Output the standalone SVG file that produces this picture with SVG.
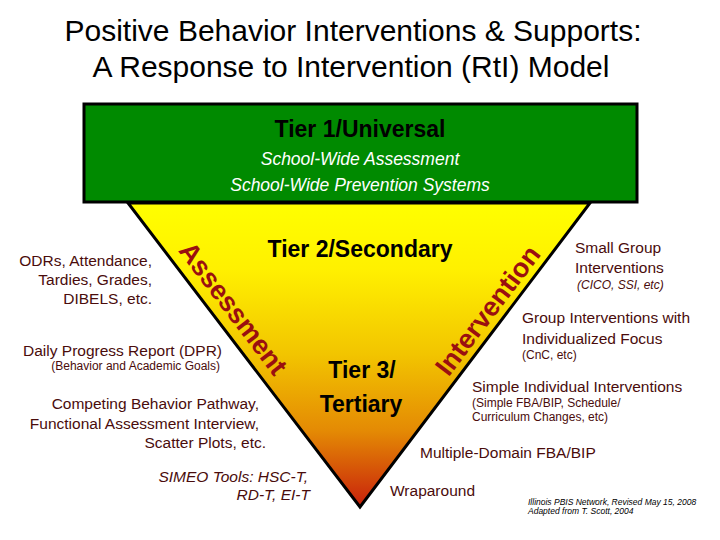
<svg xmlns="http://www.w3.org/2000/svg" width="720" height="540" viewBox="0 0 720 540">
<defs>
<linearGradient id="tri" gradientUnits="userSpaceOnUse" x1="0" y1="203" x2="0" y2="507">
<stop offset="0" stop-color="#FFFF00"/>
<stop offset="0.22" stop-color="#FFF000"/>
<stop offset="0.5" stop-color="#F2C400"/>
<stop offset="0.75" stop-color="#E48A04"/>
<stop offset="1" stop-color="#C8200C"/>
</linearGradient>
<style>
text{font-family:"Liberation Sans",Arial,Helvetica,sans-serif}
.title{font-size:30px;fill:#000;text-anchor:middle}
.tier{font-size:23px;font-weight:bold;fill:#000;text-anchor:middle}
.sw{font-size:17.5px;font-style:italic;fill:#fff;text-anchor:middle}
.lab{font-size:15.5px;fill:#4a0c0c}
.sm{font-size:12px;fill:#4a0c0c}
.it{font-style:italic}
.r{text-anchor:end}
.rot{font-size:27px;font-weight:bold;fill:#9a1010;text-anchor:middle}
.cred{font-size:8.5px;font-style:italic;fill:#000}
</style>
</defs>
<rect width="720" height="540" fill="#fff"/>
<g id="title">
<text class="title" x="353" y="41">Positive Behavior Interventions &amp; Supports:</text>
<text class="title" x="351" y="77">A Response to Intervention (RtI) Model</text>
</g>
<g id="triangle">
<polygon points="128,203 590,203 360,507" fill="url(#tri)" stroke="#000" stroke-width="3" stroke-linejoin="miter"/>
<text class="tier" x="360" y="257">Tier 2/Secondary</text>
<text class="tier" x="362" y="378">Tier 3/</text>
<text class="tier" x="361" y="412">Tertiary</text>
<text class="rot" transform="translate(226,314) rotate(52.6)">Assessment</text>
<text class="rot" font-size="28" transform="translate(495,316) rotate(-52.9)">Intervention</text>
</g>
<g id="tier1">
<rect x="84" y="104" width="553" height="98" fill="#008A00" stroke="#000" stroke-width="3"/>
<text class="tier" x="360" y="137" font-size="24">Tier 1/Universal</text>
<text class="sw" x="360" y="165">School-Wide Assessment</text>
<text class="sw" x="360" y="191">School-Wide Prevention Systems</text>
</g>
<g id="assessment-labels">
<text class="lab r" x="152" y="266">ODRs, Attendance,</text>
<text class="lab r" x="152" y="285">Tardies, Grades,</text>
<text class="lab r" x="152" y="304">DIBELS, etc.</text>
<text class="lab r" x="222" y="356" font-size="16">Daily Progress Report (DPR)</text>
<text class="sm r" x="220" y="370">(Behavior and Academic Goals)</text>
<text class="lab r" x="259" y="409">Competing Behavior Pathway,</text>
<text class="lab r" x="259" y="429">Functional Assessment Interview,</text>
<text class="lab r" x="266" y="448">Scatter Plots, etc.</text>
<text class="lab r it" x="308" y="482">SIMEO Tools: HSC-T,</text>
<text class="lab r it" x="310" y="500">RD-T, EI-T</text>
</g>
<g id="intervention-labels">
<text class="lab" x="575" y="253">Small Group</text>
<text class="lab" x="575" y="273">Interventions</text>
<text class="sm it" x="577" y="289">(CICO, SSI, etc)</text>
<text class="lab" x="522" y="323">Group Interventions with</text>
<text class="lab" x="522" y="344">Individualized Focus</text>
<text class="sm" x="522" y="359">(CnC, etc)</text>
<text class="lab" x="472" y="392">Simple Individual Interventions</text>
<text class="sm" x="472" y="407">(Simple FBA/BIP, Schedule/</text>
<text class="sm" x="472" y="421">Curriculum Changes, etc)</text>
<text class="lab" x="420" y="458">Multiple-Domain FBA/BIP</text>
<text class="lab" x="390" y="496">Wraparound</text>
</g>
<g id="credits">
<text class="cred" x="528" y="505">Illinois PBIS Network, Revised May 15, 2008</text>
<text class="cred" x="528" y="514">Adapted from  T. Scott, 2004</text>
</g>
</svg>
